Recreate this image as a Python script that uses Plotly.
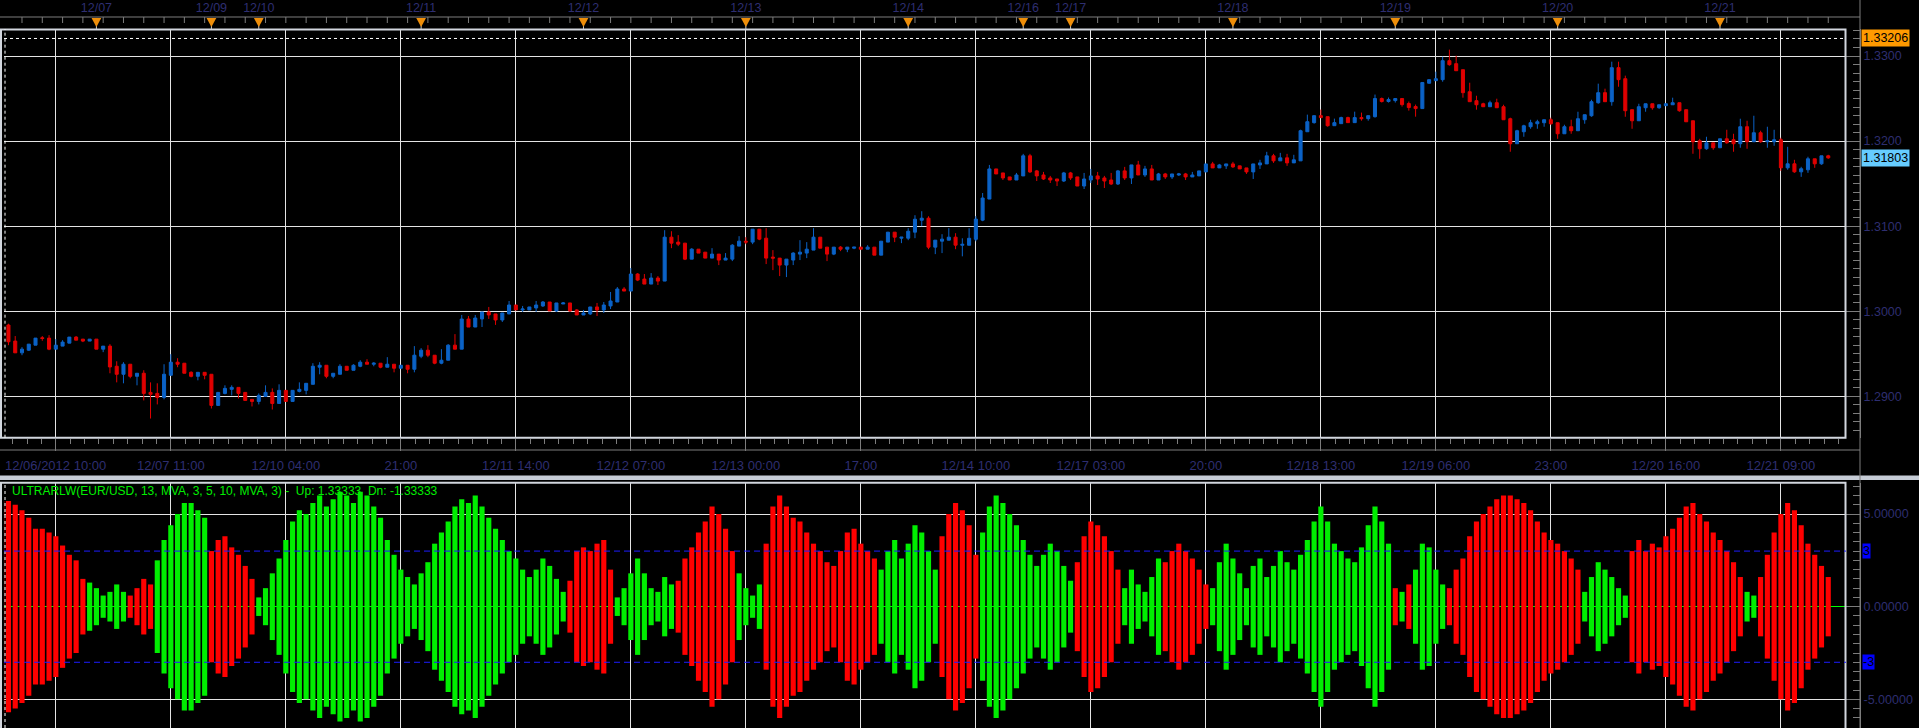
import pandas as pd
import plotly.graph_objects as go

# ---------------- data (EUR/USD hourly) ----------------
open_ = [
1.30028,1.29839,1.29650,1.29512,1.29543,1.29602,1.29689,1.29685,1.29555,1.29591,
1.29626,1.29697,1.29673,1.29650,1.29673,1.29555,1.29591,1.29354,1.29260,1.29378,
1.29236,1.29272,1.29047,1.29035,1.28988,1.29248,1.29402,1.29390,1.29283,1.29236,
1.29283,1.29260,1.28894,1.29035,1.29083,1.29106,1.29047,1.28965,1.28941,1.29000,
1.29047,1.28917,1.29071,1.28941,1.29059,1.29071,1.29142,1.29343,1.29366,1.29236,
1.29260,1.29354,1.29307,1.29354,1.29402,1.29378,1.29390,1.29343,1.29378,1.29331,
1.29366,1.29319,1.29472,1.29543,1.29484,1.29390,1.29425,1.29602,1.29555,1.29909,
1.29815,1.29910,1.29992,1.29969,1.29898,1.29969,1.30074,1.30016,1.30016,1.30039,
1.30063,1.30109,1.30004,1.30086,1.30098,1.30016,1.29957,1.29969,1.30051,1.30016,
1.30063,1.30109,1.30262,1.30238,1.30438,1.30379,1.30320,1.30391,1.30355,1.30871,
1.30813,1.30801,1.30613,1.30730,1.30695,1.30625,1.30672,1.30602,1.30613,1.30766,
1.30824,1.30813,1.30965,1.30859,1.30637,1.30625,1.30543,1.30602,1.30672,1.30684,
1.30719,1.30871,1.30754,1.30672,1.30754,1.30730,1.30742,1.30754,1.30730,1.30754,
1.30660,1.30813,1.30930,1.30859,1.30859,1.30930,1.31070,1.31094,1.30754,1.30824,
1.30836,1.30871,1.30776,1.30776,1.30846,1.31071,1.31319,1.31673,1.31626,1.31579,
1.31543,1.31591,1.31827,1.31650,1.31602,1.31567,1.31555,1.31531,1.31626,1.31579,
1.31472,1.31543,1.31591,1.31567,1.31543,1.31496,1.31650,1.31567,1.31720,1.31602,
1.31673,1.31543,1.31614,1.31579,1.31602,1.31614,1.31579,1.31591,1.31638,1.31732,
1.31685,1.31709,1.31732,1.31709,1.31685,1.31638,1.31720,1.31732,1.31827,1.31768,
1.31803,1.31744,1.31768,1.32110,1.32217,1.32299,1.32287,1.32181,1.32205,1.32276,
1.32217,1.32276,1.32264,1.32287,1.32500,1.32465,1.32476,1.32500,1.32441,1.32406,
1.32382,1.32680,1.32710,1.32722,1.32945,1.32910,1.32839,1.32580,1.32475,1.32439,
1.32404,1.32451,1.32404,1.32263,1.31969,1.32110,1.32169,1.32204,1.32216,1.32251,
1.32216,1.32086,1.32169,1.32122,1.32251,1.32298,1.32451,1.32569,1.32463,1.32863,
1.32733,1.32369,1.32239,1.32392,1.32439,1.32392,1.32416,1.32427,1.32451,1.32369,
1.32239,1.32004,1.31910,1.31980,1.31922,1.32027,1.32016,1.31969,1.32169,1.31992,
1.32098,1.31992,1.31992,1.32016,1.31686,1.31733,1.31639,1.31663,1.31792,1.31733,1.31827]

high = [
1.30028,1.29854,1.29709,1.29579,1.29614,1.29685,1.29709,1.29720,1.29673,1.29661,
1.29697,1.29709,1.29673,1.29673,1.29673,1.29591,1.29614,1.29413,1.29402,1.29378,
1.29272,1.29307,1.29165,1.29154,1.29378,1.29496,1.29449,1.29390,1.29295,1.29283,
1.29283,1.29260,1.29047,1.29130,1.29130,1.29106,1.29047,1.28965,1.29035,1.29130,
1.29094,1.29142,1.29071,1.29071,1.29165,1.29154,1.29390,1.29402,1.29366,1.29272,
1.29378,1.29354,1.29378,1.29425,1.29437,1.29402,1.29390,1.29461,1.29378,1.29366,
1.29366,1.29591,1.29567,1.29602,1.29484,1.29555,1.29614,1.29732,1.29957,1.29945,
1.29957,1.29992,1.30051,1.29969,1.29980,1.30121,1.30074,1.30063,1.30051,1.30121,
1.30121,1.30109,1.30098,1.30109,1.30098,1.30027,1.30016,1.30051,1.30098,1.30109,
1.30227,1.30285,1.30285,1.30508,1.30449,1.30438,1.30449,1.30414,1.30953,1.30941,
1.30895,1.30801,1.30742,1.30730,1.30695,1.30742,1.30672,1.30684,1.30789,1.30883,
1.30871,1.30965,1.30965,1.30977,1.30719,1.30625,1.30613,1.30695,1.30836,1.30813,
1.30977,1.30871,1.30754,1.30754,1.30766,1.30754,1.30754,1.30754,1.30777,1.30754,
1.30824,1.30930,1.30930,1.30871,1.30977,1.31129,1.31176,1.31117,1.30836,1.30906,
1.30977,1.30918,1.30858,1.30976,1.31118,1.31390,1.31720,1.31673,1.31626,1.31579,
1.31626,1.31850,1.31850,1.31661,1.31638,1.31591,1.31555,1.31638,1.31638,1.31579,
1.31626,1.31673,1.31638,1.31591,1.31626,1.31661,1.31697,1.31720,1.31768,1.31709,
1.31720,1.31626,1.31626,1.31614,1.31626,1.31626,1.31638,1.31650,1.31732,1.31756,
1.31732,1.31732,1.31756,1.31709,1.31685,1.31732,1.31780,1.31874,1.31850,1.31862,
1.31850,1.31839,1.32134,1.32311,1.32299,1.32370,1.32287,1.32264,1.32287,1.32287,
1.32346,1.32335,1.32299,1.32547,1.32512,1.32512,1.32500,1.32500,1.32465,1.32429,
1.32689,1.32722,1.32816,1.32992,1.33075,1.33004,1.32839,1.32686,1.32533,1.32451,
1.32475,1.32498,1.32427,1.32275,1.32133,1.32192,1.32251,1.32251,1.32251,1.32275,
1.32216,1.32192,1.32251,1.32345,1.32310,1.32486,1.32675,1.32616,1.32933,1.32933,
1.32769,1.32369,1.32439,1.32439,1.32439,1.32427,1.32439,1.32510,1.32451,1.32369,
1.32239,1.32027,1.32051,1.31980,1.32027,1.32133,1.32086,1.32263,1.32239,1.32298,
1.32122,1.32169,1.32133,1.32039,1.31933,1.31780,1.31698,1.31816,1.31792,1.31827,1.31839]

low = [
1.29827,1.29602,1.29512,1.29484,1.29535,1.29602,1.29654,1.29543,1.29555,1.29591,
1.29626,1.29661,1.29638,1.29650,1.29555,1.29520,1.29272,1.29165,1.29154,1.29213,
1.29130,1.28953,1.28740,1.28906,1.28965,1.29248,1.29343,1.29272,1.29224,1.29189,
1.29201,1.28858,1.28894,1.29024,1.29012,1.28976,1.28953,1.28882,1.28906,1.29000,
1.28846,1.28917,1.28941,1.28941,1.29047,1.29024,1.29142,1.29260,1.29213,1.29213,
1.29260,1.29307,1.29307,1.29343,1.29378,1.29354,1.29331,1.29343,1.29283,1.29331,
1.29272,1.29283,1.29449,1.29461,1.29378,1.29378,1.29425,1.29555,1.29555,1.29815,
1.29815,1.29816,1.29910,1.29840,1.29875,1.29969,1.30016,1.29992,1.30016,1.29992,
1.30051,1.30004,1.29992,1.30086,1.29992,1.29957,1.29957,1.29957,1.29945,1.29980,
1.30027,1.30109,1.30238,1.30238,1.30355,1.30320,1.30320,1.30309,1.30355,1.30742,
1.30766,1.30602,1.30613,1.30684,1.30625,1.30625,1.30543,1.30602,1.30590,1.30766,
1.30789,1.30789,1.30836,1.30555,1.30484,1.30414,1.30402,1.30543,1.30602,1.30625,
1.30719,1.30742,1.30590,1.30660,1.30707,1.30695,1.30730,1.30730,1.30730,1.30660,
1.30660,1.30813,1.30813,1.30801,1.30836,1.30859,1.31000,1.30730,1.30672,1.30684,
1.30836,1.30730,1.30646,1.30776,1.30823,1.31059,1.31319,1.31614,1.31543,1.31543,
1.31543,1.31591,1.31626,1.31531,1.31543,1.31508,1.31472,1.31520,1.31543,1.31472,
1.31437,1.31508,1.31484,1.31449,1.31484,1.31484,1.31543,1.31496,1.31602,1.31579,
1.31543,1.31543,1.31555,1.31555,1.31591,1.31543,1.31579,1.31591,1.31638,1.31685,
1.31685,1.31673,1.31685,1.31673,1.31614,1.31555,1.31673,1.31732,1.31744,1.31768,
1.31709,1.31744,1.31768,1.32110,1.32205,1.32276,1.32169,1.32181,1.32205,1.32217,
1.32217,1.32240,1.32240,1.32276,1.32453,1.32453,1.32453,1.32406,1.32358,1.32287,
1.32382,1.32675,1.32710,1.32698,1.32886,1.32827,1.32510,1.32463,1.32369,1.32404,
1.32404,1.32392,1.32251,1.31875,1.31969,1.32051,1.32145,1.32145,1.32169,1.32192,
1.32027,1.32086,1.32086,1.32122,1.32204,1.32286,1.32439,1.32463,1.32416,1.32639,
1.32286,1.32145,1.32239,1.32345,1.32369,1.32380,1.32416,1.32427,1.32345,1.32227,
1.31851,1.31792,1.31898,1.31898,1.31922,1.31969,1.31875,1.31922,1.31910,1.31992,
1.31980,1.31922,1.31945,1.31651,1.31663,1.31627,1.31580,1.31627,1.31686,1.31722,1.31792]

close = [
1.29827,1.29642,1.29512,1.29555,1.29614,1.29685,1.29681,1.29555,1.29602,1.29638,
1.29697,1.29661,1.29650,1.29673,1.29555,1.29591,1.29346,1.29260,1.29378,1.29236,
1.29272,1.29035,1.29024,1.28988,1.29260,1.29402,1.29378,1.29272,1.29236,1.29283,
1.29248,1.28894,1.29047,1.29094,1.29106,1.29035,1.28953,1.28941,1.29012,1.29047,
1.28917,1.29071,1.28941,1.29071,1.29083,1.29154,1.29354,1.29366,1.29236,1.29272,
1.29354,1.29307,1.29366,1.29402,1.29378,1.29390,1.29343,1.29378,1.29331,1.29366,
1.29319,1.29484,1.29543,1.29484,1.29390,1.29425,1.29602,1.29555,1.29909,1.29815,
1.29921,1.29992,1.29957,1.29898,1.29980,1.30074,1.30016,1.30027,1.30051,1.30074,
1.30109,1.30004,1.30098,1.30098,1.30004,1.29957,1.29980,1.30051,1.30016,1.30074,
1.30121,1.30262,1.30238,1.30438,1.30367,1.30320,1.30391,1.30355,1.30871,1.30801,
1.30789,1.30613,1.30730,1.30684,1.30625,1.30672,1.30602,1.30625,1.30777,1.30824,
1.30813,1.30965,1.30848,1.30625,1.30625,1.30543,1.30613,1.30684,1.30695,1.30730,
1.30871,1.30742,1.30672,1.30754,1.30730,1.30754,1.30754,1.30730,1.30754,1.30660,
1.30824,1.30930,1.30871,1.30871,1.30941,1.31082,1.31094,1.30754,1.30836,1.30848,
1.30871,1.30777,1.30787,1.30858,1.31083,1.31331,1.31673,1.31614,1.31567,1.31543,
1.31602,1.31827,1.31638,1.31591,1.31555,1.31543,1.31531,1.31626,1.31567,1.31472,
1.31555,1.31591,1.31555,1.31531,1.31496,1.31650,1.31567,1.31720,1.31602,1.31673,
1.31543,1.31614,1.31579,1.31614,1.31614,1.31579,1.31602,1.31650,1.31732,1.31685,
1.31720,1.31732,1.31697,1.31673,1.31638,1.31732,1.31744,1.31827,1.31768,1.31803,
1.31744,1.31780,1.32122,1.32228,1.32299,1.32276,1.32181,1.32217,1.32276,1.32217,
1.32276,1.32264,1.32299,1.32500,1.32465,1.32488,1.32500,1.32429,1.32394,1.32382,
1.32689,1.32722,1.32733,1.32945,1.32898,1.32827,1.32569,1.32463,1.32427,1.32404,
1.32451,1.32392,1.32251,1.31969,1.32122,1.32180,1.32216,1.32227,1.32251,1.32204,
1.32086,1.32169,1.32122,1.32263,1.32310,1.32463,1.32569,1.32463,1.32863,1.32722,
1.32357,1.32239,1.32404,1.32439,1.32392,1.32427,1.32439,1.32451,1.32357,1.32227,
1.31992,1.31910,1.31980,1.31922,1.32027,1.31980,1.31969,1.32169,1.31992,1.32098,
1.31992,1.32004,1.32016,1.31686,1.31733,1.31639,1.31675,1.31792,1.31733,1.31827,1.31803]

# ULTRARLW oscillator (positive = green, negative = red; drawn symmetric about 0)
ultra = [
-5.7,-5.7,-5.5,-5.2,-4.8,-4.2,-4.2,-4.0,-3.8,-3.3,
-2.8,-2.5,-1.5,1.3,1.0,0.6,0.8,1.2,0.8,-0.6,
-1.0,-1.5,-1.2,2.5,3.6,4.4,5.0,5.6,5.6,5.2,
4.8,-3.0,-3.6,-3.8,-3.2,-2.8,-2.2,-1.5,0.5,1.0,
1.8,2.6,3.6,4.6,5.2,5.0,5.6,6.0,5.4,5.8,
6.2,6.0,5.6,6.2,6.0,5.4,4.8,3.6,2.8,2.0,
1.6,1.2,1.8,2.4,3.4,4.0,4.6,5.4,5.8,5.6,
6.0,5.4,4.8,4.2,3.6,3.0,2.6,2.0,1.6,2.0,
2.6,2.2,1.5,0.8,-1.4,-3.0,-3.2,-3.0,-3.4,-3.6,
-2.0,0.5,1.0,1.8,2.6,1.8,1.0,0.8,1.6,1.2,
-1.4,-2.6,-3.2,-4.0,-4.6,-5.4,-5.0,-4.2,-3.0,1.8,
1.0,0.6,1.2,-3.4,-5.4,-6.0,-5.4,-4.8,-4.6,-4.0,
-3.4,-3.0,-2.4,-2.2,-3.0,-4.0,-4.2,-3.4,-3.0,-2.6,
2.0,3.0,3.6,2.6,3.4,4.4,4.0,3.0,2.0,-3.8,
-5.0,-5.6,-5.2,-4.4,-2.8,4.0,5.4,6.0,5.6,5.0,
4.4,3.6,2.8,2.2,2.8,3.4,3.0,2.2,1.4,-2.4,
-3.8,-4.6,-4.4,-3.8,-3.0,-2.0,1.0,2.0,1.2,0.8,
1.6,2.6,-2.4,-3.0,-3.4,-3.0,-2.6,-2.0,-1.2,1.0,
2.4,3.4,2.6,1.8,1.0,2.2,2.6,1.6,2.2,3.0,
2.4,2.0,2.8,3.6,4.6,5.4,4.6,3.4,3.0,2.6,
2.4,3.2,4.4,5.4,4.6,3.4,-1.0,0.8,-1.2,2.0,
3.4,3.2,2.0,1.2,-1.0,-2.0,-2.6,-3.8,-4.6,-5.0,
-5.4,-5.8,-6.0,-6.0,-5.8,-5.6,-5.2,-4.6,-4.0,-3.6,
-3.4,-3.0,-2.6,-2.0,0.8,1.6,2.4,2.0,1.6,1.0,
0.6,-3.0,-3.6,-3.0,-3.4,-3.2,-3.8,-4.2,-4.8,-5.4,
-5.6,-5.0,-4.6,-4.0,-3.6,-3.0,-2.4,-1.6,0.8,0.6,
-1.6,-2.8,-4.0,-5.0,-5.6,-5.2,-4.4,-3.4,-2.8,-2.2,-1.6]

start_time = "2012-12-06 10:00"
first_label = "12/06/2012 10:00"
grid_times = ["2012-12-06 18:00", "2012-12-07 11:00", "2012-12-10 04:00", "2012-12-10 21:00",
              "2012-12-11 14:00", "2012-12-12 07:00", "2012-12-13 00:00", "2012-12-13 17:00",
              "2012-12-14 10:00", "2012-12-17 03:00", "2012-12-17 20:00", "2012-12-18 13:00",
              "2012-12-19 06:00", "2012-12-19 23:00", "2012-12-20 16:00", "2012-12-21 09:00"]
grid_labels = ["", "12/07 11:00", "12/10 04:00", "21:00", "12/11 14:00", "12/12 07:00",
               "12/13 00:00", "17:00", "12/14 10:00", "12/17 03:00", "20:00", "12/18 13:00",
               "12/19 06:00", "23:00", "12/20 16:00", "12/21 09:00"]
day_dates = ["2012-12-07", "2012-12-09", "2012-12-10", "2012-12-11", "2012-12-12", "2012-12-13",
             "2012-12-14", "2012-12-16", "2012-12-17", "2012-12-18", "2012-12-19", "2012-12-20",
             "2012-12-21"]
day_labels = ["12/07", "12/09", "12/10", "12/11", "12/12", "12/13", "12/14", "12/16", "12/17",
              "12/18", "12/19", "12/20", "12/21"]
level_high = 1.33206
ind_levels = [3, -3]
ind_ticks = [-5, 0, 5]
ind_title = "ULTRARLW(EUR/USD, 13, MVA, 3, 5, 10, MVA, 3) -  Up: 1.33333  Dn: -1.33333"

# ---------------- time index (forex hours, weekend Fri 17:00 -> Sun 17:00) ----------------
def trading_hours(start, n):
    out, t = [], pd.Timestamp(start)
    while len(out) < n:
        wd, h = t.weekday(), t.hour
        closed = (wd == 4 and h >= 17) or wd == 5 or (wd == 6 and h < 17)
        if not closed:
            out.append(t)
        t += pd.Timedelta(hours=1)
    return out

bar_times = trading_hours(start_time, len(close))
pos = {t: i for i, t in enumerate(bar_times)}
xi = list(range(len(close)))
grid_idx = [pos[pd.Timestamp(t)] for t in grid_times]
day_idx = [next(i for i, t in enumerate(bar_times) if t.strftime("%Y-%m-%d") == d) for d in day_dates]

# ---------------- geometry (pixels) ----------------
W, H = 1919, 728
PL, PR = 4, 1846
MAIN_T, MAIN_B = 29, 437.7
IND_T = 482.7
AX_X = 1860
BAR0, STEP = 1.7, 6.765
fx = lambda px: px / W
fy = lambda py: 1 - py / H
XR = [(PL - BAR0) / STEP, (PR - BAR0) / STEP]
YR = [1.285147, 1.333173]
Y2R = [-6.546, 6.69]

BLUE = "#0b62c6"
RED = "#e00000"
NAVY = "#2e2e70"
GRID = "#e4e4e4"
AXC = "#7c7c7c"
ORANGE = "#ee8e0a"
FONT = "Liberation Sans"

fig = go.Figure()
fig.add_trace(go.Candlestick(
    x=xi, open=open_, high=high, low=low, close=close,
    increasing=dict(line=dict(color=BLUE, width=1), fillcolor=BLUE),
    decreasing=dict(line=dict(color=RED, width=1), fillcolor=RED),
    whiskerwidth=0, hoverinfo="skip", xaxis="x", yaxis="y"))

# dummy to anchor top label axis
fig.add_trace(go.Scatter(x=[day_idx[0]], y=[close[0]], mode="markers",
                         marker=dict(opacity=0), hoverinfo="skip", xaxis="x3", yaxis="y"))

mag = [abs(v) for v in ultra]
fig.add_trace(go.Bar(
    x=xi, y=[2 * m for m in mag], base=[-m for m in mag], width=0.76,
    marker=dict(color=["#00ee00" if v >= 0 else "#ff0000" for v in ultra], line=dict(width=0)),
    hoverinfo="skip", xaxis="x2", yaxis="y2"))

tickfont = dict(family=FONT, size=12.5, color=NAVY)
fig.update_layout(
    width=W, height=H, margin=dict(l=0, r=0, t=0, b=0),
    paper_bgcolor="black", plot_bgcolor="black", showlegend=False, hovermode=False,
    boxgap=0.36,
    xaxis=dict(domain=[fx(PL), fx(PR)], range=XR, anchor="y", rangeslider=dict(visible=False),
               tickmode="array", tickvals=grid_idx, ticktext=grid_labels,
               showgrid=True, gridcolor=GRID, gridwidth=1, zeroline=False,
               ticks="outside", ticklen=12, tickcolor=AXC, ticklabelstandoff=4,
               tickfont=dict(family=FONT, size=13, color=NAVY),
               minor=dict(tick0=grid_idx[0], dtick=17 / 8, ticks="outside", ticklen=5,
                          tickcolor=AXC, showgrid=False),
               showline=False),
    yaxis=dict(domain=[fy(MAIN_B), fy(MAIN_T)], range=YR, anchor="free", position=fx(AX_X),
               side="right", tick0=1.29, dtick=0.01, tickformat=".4f",
               showgrid=True, gridcolor=GRID, gridwidth=1, zeroline=False,
               ticks="inside", ticklen=14, tickcolor=AXC, showline=True, linecolor=AXC,
               tickfont=tickfont,
               minor=dict(dtick=0.001, ticks="inside", ticklen=7, tickcolor=AXC, showgrid=False)),
    xaxis2=dict(domain=[fx(PL), fx(PR)], range=XR, anchor="y2",
                tickmode="array", tickvals=grid_idx, showticklabels=False, ticks="",
                showgrid=True, gridcolor=GRID, gridwidth=1, zeroline=False, showline=False),
    yaxis2=dict(domain=[0, fy(IND_T)], range=Y2R, anchor="free", position=fx(AX_X), side="right",
                tickmode="array", tickvals=ind_ticks, ticktext=[f"{v:.5f}" for v in ind_ticks],
                showgrid=True, gridcolor=GRID, gridwidth=1,
                zeroline=True, zerolinecolor="#00ff00", zerolinewidth=1,
                ticks="inside", ticklen=14, tickcolor=AXC, showline=True, linecolor=AXC,
                tickfont=tickfont,
                minor=dict(dtick=0.5, ticks="inside", ticklen=7, tickcolor=AXC, showgrid=False)),
    xaxis3=dict(overlaying="x", anchor="free", position=fy(14.5), side="top", range=XR,
                tickmode="array", tickvals=day_idx, ticktext=day_labels,
                ticks="", tickfont=tickfont, showgrid=False, zeroline=False, showline=False),
)

shapes = []
FR = "#d2d6de"
# panel frames
shapes.append(dict(type="rect", xref="paper", yref="paper", x0=fx(1), x1=fx(1845.5),
                   y0=fy(MAIN_B), y1=fy(MAIN_T + 0.5), line=dict(color=FR, width=2)))
shapes.append(dict(type="rect", xref="paper", yref="paper", x0=fx(1), x1=fx(1845.5),
                   y0=fy(740), y1=fy(IND_T), line=dict(color=FR, width=2)))
# separator bar between panels
shapes.append(dict(type="rect", xref="paper", yref="paper", x0=0, x1=1, y0=fy(480), y1=fy(475.5),
                   fillcolor="#c6ccd6", line=dict(width=0)))
# axis lines
shapes.append(dict(type="line", xref="paper", yref="paper", x0=fx(AX_X), x1=fx(AX_X), y0=0, y1=1,
                   line=dict(color=AXC, width=1)))
shapes.append(dict(type="line", xref="paper", yref="paper", x0=0, x1=fx(AX_X), y0=fy(17), y1=fy(17),
                   line=dict(color=AXC, width=1)))
shapes.append(dict(type="line", xref="paper", yref="paper", x0=0, x1=fx(AX_X), y0=fy(450), y1=fy(450),
                   line=dict(color=AXC, width=1)))
# small ticks hanging below the top time axis
k = 0
while k * 3 <= XR[1]:
    shapes.append(dict(type="line", xref="x", yref="paper", x0=k * 3, x1=k * 3, y0=fy(23), y1=fy(17),
                       line=dict(color=AXC, width=1)))
    k += 1
# day-change markers: orange triangles with a thin line down to the frame
for d in day_idx:
    shapes.append(dict(type="line", xref="x", yref="paper", x0=d, x1=d, y0=fy(MAIN_T), y1=fy(24),
                       line=dict(color="#c8c8c8", width=1)))
    shapes.append(dict(type="path", xref="x", yref="paper",
                       path=f"M {d - 0.72},{fy(18)} L {d + 0.72},{fy(18)} L {d},{fy(27)} Z",
                       fillcolor=ORANGE, line=dict(width=0)))
# session-start dashed vertical
for a, b in [(MAIN_T, MAIN_B), (IND_T, H)]:
    shapes.append(dict(type="line", xref="paper", yref="paper", x0=fx(5), x1=fx(5), y0=fy(b), y1=fy(a),
                       line=dict(color="white", width=1, dash="3px,3px")))
# high level dashed line
shapes.append(dict(type="line", xref="paper", yref="y", x0=fx(PL), x1=fx(PR), y0=level_high, y1=level_high,
                   line=dict(color="white", width=1, dash="3px,3px")))
# indicator levels
for lv in ind_levels:
    shapes.append(dict(type="line", xref="paper", yref="y2", x0=fx(PL), x1=fx(PR), y0=lv, y1=lv,
                       line=dict(color="#1c1cff", width=1, dash="6px,4px")))
fig.update_layout(shapes=shapes)

ann = []
ann.append(dict(text=first_label, xref="paper", yref="paper", x=fx(3), y=fy(466), xanchor="left",
                yanchor="middle", showarrow=False, font=dict(family=FONT, size=13, color=NAVY)))
ann.append(dict(text=ind_title, xref="paper", yref="paper", x=fx(10), y=fy(491), xanchor="left",
                yanchor="middle", showarrow=False, font=dict(family=FONT, size=12, color="#00ee00")))
ann.append(dict(text=f"{level_high:.5f}", xref="paper", yref="y", x=fx(AX_X + 0.5), y=level_high,
                xanchor="left", yanchor="middle", showarrow=False, bgcolor="#ff9a00", borderpad=1,
                font=dict(family=FONT, size=12.5, color="black")))
ann.append(dict(text=f"{close[-1]:.5f}", xref="paper", yref="y", x=fx(AX_X + 0.5), y=close[-1],
                xanchor="left", yanchor="middle", showarrow=False, bgcolor="#66ccff", borderpad=1,
                font=dict(family=FONT, size=12.5, color="black")))
for lv in ind_levels:
    ann.append(dict(text=str(lv), xref="paper", yref="y2", x=fx(AX_X + 1.5), y=lv,
                    xanchor="left", yanchor="middle", showarrow=False, bgcolor="#0000ff", borderpad=0,
                    font=dict(family=FONT, size=12.5, color="black")))
fig.update_layout(annotations=ann)

fig.write_html("out.html", config={"displayModeBar": False})
